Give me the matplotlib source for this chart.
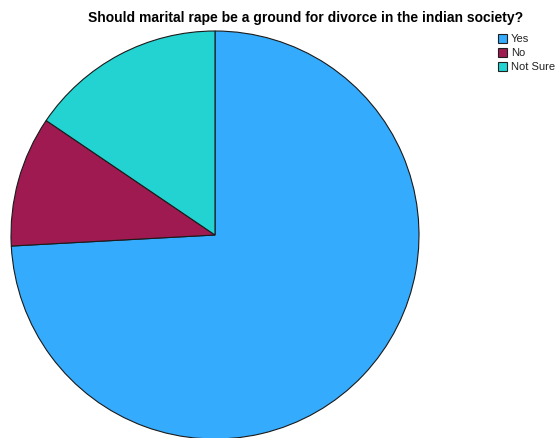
import matplotlib
matplotlib.use("Agg")
import matplotlib.pyplot as plt
from matplotlib.patches import Rectangle

plt.rcParams['font.family'] = ['Liberation Sans', 'DejaVu Sans']

title = "Should marital rape be a ground for divorce in the indian society?"
categories = ["Yes", "No", "Not Sure"]
counts = [43, 6, 9]
colors = ["#35abfd", "#9e1a51", "#22d3d2"]

W, H = 556, 439
fig = plt.figure(figsize=(W / 100, H / 100), dpi=100)

# pie axes: centre (215, 236) px, radius 204 px
cx, cy, r = 215, 236, 204
ax = fig.add_axes([(cx - r) / W, (H - cy - r) / H, 2 * r / W, 2 * r / H])
ax.pie(counts, colors=colors, startangle=90, counterclock=False, radius=1,
       wedgeprops=dict(edgecolor="#1a1a1a", linewidth=0.8))
ax.set_xlim(-1, 1)
ax.set_ylim(-1, 1)
ax.set_aspect("equal")
ax.axis("off")

fig.text(306 / W, 1 - 18 / H, title, ha="center", va="center",
         fontsize=10, fontweight="bold")

# legend
for i, (lab, col) in enumerate(zip(categories, colors)):
    y_top = 35 + 14 * i
    fig.patches.append(Rectangle((497.5 / W, 1 - (y_top + 9) / H), 9 / W, 9 / H,
                                 transform=fig.transFigure, facecolor=col,
                                 edgecolor="#202020", linewidth=0.8))
    fig.text(511 / W, 1 - (y_top + 4.5) / H, lab, ha="left", va="center",
             fontsize=8, color="#222222")

fig.savefig("out.png", dpi=100)
